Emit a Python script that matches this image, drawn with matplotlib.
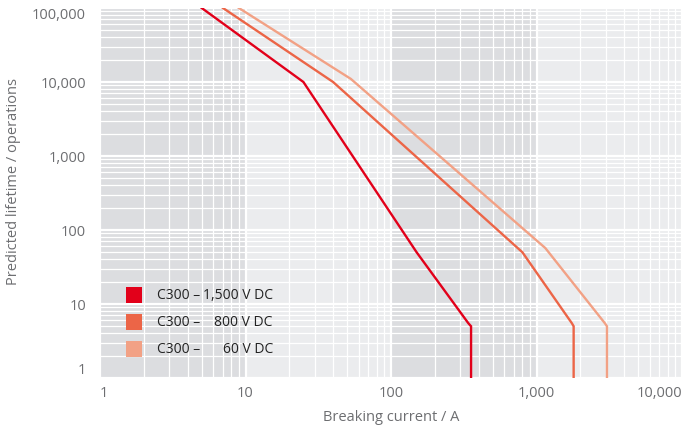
import matplotlib.pyplot as plt
from matplotlib.patches import Rectangle
from matplotlib.ticker import FixedLocator, FuncFormatter, NullFormatter

plt.rcParams['font.family'] = ['Open Sans', 'DejaVu Sans']

# curve data (breaking current in A, lifetime in operations)
current_1500 = [5, 25, 150, 340, 355, 355]
life_1500 = [100000, 10000, 50, 5.5, 5, 1]

current_800 = [7, 40, 800, 1750, 1800, 1800]
life_800 = [100000, 10000, 50, 5.5, 5, 1]

current_60 = [9, 53, 1150, 2950, 3050, 3050]
life_60 = [100000, 11000, 57, 5.5, 5, 1]

series_labels = ["1,500 V DC", "800 V DC", "60 V DC"]
series_colors = ["#e2001a", "#ec6547", "#f2a185"]

x_ticks = [1, 10, 100, 1000, 10000]
y_ticks = [1, 10, 100, 1000, 10000, 100000]
band_colors = ["#dcdde0", "#ebecee"]

text_grey = "#6d6e71"

fig = plt.figure(figsize=(6.95, 4.29), dpi=100)
ax = fig.add_axes([100 / 695, 51 / 429, 582 / 695, 370 / 429])
ax.set_xscale('log')
ax.set_yscale('log')
ax.set_xlim(x_ticks[0], x_ticks[-1])
ax.set_ylim(y_ticks[0], y_ticks[-1])

# alternating decade bands
for i in range(len(x_ticks) - 1):
    ax.axvspan(x_ticks[i], x_ticks[i + 1], color=band_colors[i % 2], zorder=0, lw=0)

minor = [m * d for d in x_ticks[:-1] for m in range(2, 10)]
minor_y = [m * d for d in y_ticks[:-1] for m in range(2, 10)]
ax.xaxis.set_major_locator(FixedLocator(x_ticks))
ax.yaxis.set_major_locator(FixedLocator(y_ticks))
ax.xaxis.set_minor_locator(FixedLocator(minor))
ax.yaxis.set_minor_locator(FixedLocator(minor_y))
ax.xaxis.set_minor_formatter(NullFormatter())
ax.yaxis.set_minor_formatter(NullFormatter())
fmt = FuncFormatter(lambda v, p: f"{int(round(v)):,}")
ax.xaxis.set_major_formatter(fmt)
ax.yaxis.set_major_formatter(fmt)

ax.set_axisbelow('line')
ax.grid(which='major', color='white', lw=1.6)
ax.grid(which='minor', color='white', lw=0.9)
# horizontal major lines sit over the curves, as in the original
for t in ax.yaxis.get_major_ticks():
    t.gridline.set_zorder(3)

for s in ax.spines.values():
    s.set_visible(False)
ax.tick_params(which='both', length=0, labelsize=10.5, colors=text_grey)
ax.tick_params(axis='x', pad=6)
ax.tick_params(axis='y', pad=10)

curves = [(current_1500, life_1500), (current_800, life_800), (current_60, life_60)]
for (xs, ys), c in zip(curves, series_colors):
    ax.plot(xs, ys, color=c, lw=1.7, zorder=2, solid_joinstyle='miter')

fig.canvas.draw()
xl = ax.get_xticklabels()
xl[0].set_ha('left')
xl[-1].set_ha('right')
yl = ax.get_yticklabels()
yl[0].set_va('bottom')
yl[-1].set_va('top')

ax.set_xlabel("Breaking current / A", fontsize=10.5, color=text_grey, labelpad=6)
ax.set_ylabel("Predicted lifetime / operations", fontsize=10.5, color=text_grey, labelpad=8)
ax.yaxis.set_label_coords(-0.135, 0.53)

# legend drawn by hand
row_y = [0.224, 0.151, 0.078]
for lab, c, yy in zip(series_labels, series_colors, row_y):
    ax.add_patch(Rectangle((0.0447, yy - 0.0216), 0.0275, 0.0432, transform=ax.transAxes,
                           color=c, zorder=4, lw=0))
    ax.text(0.098, yy, "C300 –", transform=ax.transAxes, fontsize=10, color="#222222",
            va='center', ha='left', zorder=4)
    ax.text(0.297, yy, lab, transform=ax.transAxes, fontsize=10, color="#222222",
            va='center', ha='right', zorder=4)

fig.savefig("out.png", dpi=100)
